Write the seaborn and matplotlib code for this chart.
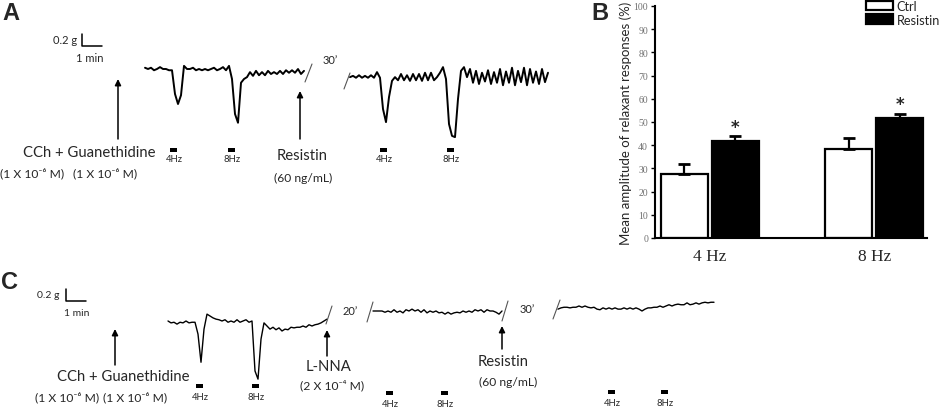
import numpy as np
import pandas as pd
import matplotlib
matplotlib.use("Agg")
import matplotlib.pyplot as plt
from matplotlib.patches import Rectangle
import seaborn as sns

# ---------------- data ----------------
DT_MIN = 0.15  # minutes between trace samples

# Panel A traces (tension change, g)
a_seg1 = [0.02, 0.00, 0.02, -0.02, 0.00, 0.03, 0.00, 0.00, -0.02, -0.02,
          -0.40, -0.56, -0.42, 0.05, 0.00, 0.00, 0.02, -0.02, 0.00, -0.02,
          0.00, -0.02, 0.00, 0.02, -0.02, 0.00, 0.03, -0.02, 0.05, -0.16,
          -0.72, -0.86, -0.22, -0.16, -0.13, -0.05, -0.11, -0.03, -0.10, -0.05,
          -0.10, -0.03, -0.08, -0.05, -0.08, -0.03, -0.08, -0.02, -0.06, -0.02,
          -0.06, 0.00, -0.08, -0.03]
a_seg2 = [-0.13, -0.11, -0.14, -0.10, -0.14, -0.11, -0.14, -0.10, -0.14, -0.05,
          -0.14, -0.64, -0.85, -0.45, -0.19, -0.13, -0.18, -0.08, -0.18, -0.10,
          -0.19, -0.08, -0.18, -0.08, -0.19, -0.06, -0.18, -0.06, -0.18, -0.13,
          -0.06, 0.03, -0.16, -0.88, -1.07, -1.09, -0.48, -0.03, 0.03, -0.13,
          0.00, -0.22, -0.03, -0.24, -0.06, -0.20, -0.02, -0.24, -0.05, -0.22,
          0.00, -0.26, -0.04, -0.22, 0.02, -0.26, -0.03, -0.21, 0.02, -0.26,
          0.00, -0.22, -0.04, -0.24, 0.00, -0.21, -0.06]

# Panel C traces (tension change, g)
c_seg1 = [0.00, -0.03, -0.02, -0.05, -0.02, -0.03, 0.00, -0.03, -0.02, -0.02,
          -0.21, -0.66, -0.13, 0.11, 0.08, 0.05, 0.03, 0.02, 0.00, 0.02,
          -0.02, 0.00, -0.02, 0.02, -0.02, 0.00, 0.02, -0.02, 0.00, -0.80,
          -0.93, -0.29, -0.03, -0.08, -0.13, -0.10, -0.14, -0.11, -0.16, -0.13,
          -0.14, -0.10, -0.11, -0.10, -0.10, -0.08, -0.10, -0.06, -0.08, -0.06,
          -0.05, -0.03, 0.00, 0.03]
c_seg2 = [0.16, 0.16, 0.16, 0.16, 0.14, 0.16, 0.14, 0.18, 0.14, 0.16,
          0.13, 0.18, 0.16, 0.19, 0.16, 0.18, 0.14, 0.18, 0.13, 0.16,
          0.14, 0.16, 0.13, 0.14, 0.11, 0.14, 0.11, 0.13, 0.14, 0.13,
          0.16, 0.14, 0.16, 0.14, 0.18, 0.16, 0.18, 0.14, 0.18, 0.16,
          0.16, 0.14, 0.11, 0.16]
c_seg3 = [0.19, 0.21, 0.22, 0.22, 0.21, 0.22, 0.22, 0.24, 0.22, 0.24,
          0.22, 0.21, 0.22, 0.19, 0.18, 0.21, 0.19, 0.21, 0.19, 0.21,
          0.19, 0.19, 0.21, 0.19, 0.21, 0.19, 0.21, 0.19, 0.16, 0.19,
          0.21, 0.21, 0.22, 0.22, 0.24, 0.22, 0.24, 0.26, 0.24, 0.26,
          0.27, 0.26, 0.26, 0.29, 0.26, 0.27, 0.29, 0.27, 0.29, 0.30,
          0.29, 0.30, 0.30]

# scale bar values
scale_g = 0.2
scale_min = 1.0

# Panel B bar data
freqs = ["4 Hz", "4 Hz", "8 Hz", "8 Hz"]
groups = ["Ctrl", "Resistin", "Ctrl", "Resistin"]
means = [27.5, 41.7, 38.3, 51.7]
sems = [4.5, 2.3, 4.9, 1.9]
signif = [False, True, False, True]
freq_order = ["4 Hz", "8 Hz"]
group_order = ["Ctrl", "Resistin"]
y_ticks = list(range(0, 101, 10))
y_label = "Mean amplitude of relaxant responses (%)"

# ---------------- style ----------------
sns.set_theme(style="white")
plt.rcParams["font.family"] = ["Lato", "DejaVu Sans"]
SANS = ["Lato", "DejaVu Sans"]

W, H = 941, 410
fig = plt.figure(figsize=(W / 100, H / 100), dpi=100)


def px_axes(x0, y0, x1, y1):
    return fig.add_axes([x0 / W, 1 - y1 / H, (x1 - x0) / W, (y1 - y0) / H])


PX_MIN = 20.0   # pixels per minute
PX_G = 62.5     # pixels per gram


def trace_axes(x0, y0, x1, y1, g_top):
    ax = px_axes(x0, y0, x1, y1)
    ax.set_xlim(0, (x1 - x0) / PX_MIN)
    ax.set_ylim(g_top - (y1 - y0) / PX_G, g_top)
    ax.axis("off")
    ax.patch.set_visible(False)
    return ax


def draw_trace(ax, vals, t0, lw):
    t = t0 + np.arange(len(vals)) * DT_MIN
    sns.lineplot(x=t, y=vals, ax=ax, color="black", lw=lw,
                 estimator=None, sort=False)


def scale_bar(ax, t, g):
    ax.plot([t, t, t + scale_min], [g + scale_g, g, g], color="black", lw=1.1)


# ---- Panel A traces ----
axA = trace_axes(60, 30, 560, 150, g_top=0.64)
draw_trace(axA, a_seg1, 4.25, 1.4)
draw_trace(axA, a_seg2, 14.5, 1.4)
scale_bar(axA, 1.1, 0.368)

# ---- Panel C traces ----
axC = trace_axes(40, 280, 720, 390, g_top=0.672)
draw_trace(axC, c_seg1, 6.4, 1.0)
draw_trace(axC, c_seg2, 16.65, 1.0)
draw_trace(axC, c_seg3, 25.9, 1.0)
scale_bar(axC, 1.3, 0.32)

# ---- Panel B bar chart ----
axB = px_axes(655, 7, 927, 239)
df = pd.DataFrame({"freq": freqs, "group": groups, "mean": means, "sem": sems,
                   "sig": signif})
sns.barplot(data=df, x="freq", y="mean", hue="group", order=freq_order,
            hue_order=group_order, palette={"Ctrl": "white", "Resistin": "black"},
            edgecolor="black", linewidth=1.6, width=0.62, gap=0.08,
            errorbar=None, ax=axB, legend=False)
for cont, grp in zip(axB.containers, group_order):
    for bar, fr in zip(cont, freq_order):
        row = df[(df["freq"] == fr) & (df["group"] == grp)].iloc[0]
        xc = bar.get_x() + bar.get_width() / 2
        axB.errorbar([xc], [row["mean"]], yerr=[[0], [row["sem"]]], fmt="none",
                     ecolor="black", elinewidth=1.6, capsize=4.5, capthick=2,
                     zorder=5)
        if row["sig"]:
            axB.text(xc, row["mean"] + row["sem"] + 4.0, "*", ha="center",
                     va="center", fontsize=12, fontweight="bold",
                     family="DejaVu Sans")
axB.set_xlim(-0.334, 1.32)
axB.set_ylim(0, 100)
axB.set_yticks(y_ticks)
axB.set_yticklabels([str(v) for v in y_ticks], family="Liberation Serif",
                    fontsize=7, color="#707070")
axB.set_xticks([0, 1])
axB.set_xticklabels(freq_order, family="Liberation Serif", fontsize=12.5)
axB.tick_params(axis="y", left=True, length=3, width=1, direction="out", pad=2,
                color="black")
axB.tick_params(axis="x", bottom=False, length=0, pad=7)
axB.set_xlabel("")
axB.set_ylabel(y_label, fontsize=9.5, family=SANS)
axB.yaxis.set_label_coords(-0.085, 0.5)
for s in ["top", "right"]:
    axB.spines[s].set_visible(False)
for s in ["left", "bottom"]:
    axB.spines[s].set_linewidth(1.5)
    axB.spines[s].set_color("black")
axB.patch.set_visible(False)

handles = [axB.containers[0][0], axB.containers[1][0]]
fig.legend(handles, group_order, loc="upper left",
           bbox_to_anchor=(866 / W, 1 - 1 / H), bbox_transform=fig.transFigure,
           frameon=False, handlelength=2.1, handleheight=0.8,
           handletextpad=0.3, labelspacing=0.12, borderpad=0.0,
           borderaxespad=0, prop={"family": SANS, "size": 9.2})

# ---- overlay for annotations (pixel coordinates) ----
ov = fig.add_axes([0, 0, 1, 1])
ov.set_xlim(0, W)
ov.set_ylim(H, 0)
ov.axis("off")
ov.patch.set_visible(False)


def txt(x, y, s, size, **kw):
    kw.setdefault("ha", "center")
    kw.setdefault("va", "center")
    kw.setdefault("family", SANS)
    ov.text(x, y, s, fontsize=size, **kw)


def arrow(x, y_head, y_tail):
    ov.annotate("", xy=(x, y_head), xytext=(x, y_tail),
                arrowprops=dict(arrowstyle="-|>", color="black", lw=1.1,
                                mutation_scale=9, shrinkA=0, shrinkB=0))


def slash(x1, y1, x2, y2):
    ov.plot([x1, x2], [y1, y2], color="#555555", lw=0.8)


def stim(x, y, label, ly):
    ov.add_patch(Rectangle((x - 3.5, y - 2), 7, 4, color="black", lw=0))
    txt(x, ly, label, 6.8)


# panel letters
for lx, ly, lt in [(11, 13, "A"), (600, 13, "B"), (10, 283, "C")]:
    ov.text(lx, ly, lt, fontsize=17, fontweight="bold", ha="center",
            va="center", family="Liberation Sans")

# Panel A annotations
txt(65, 40, "0.2 g", 8)
txt(90, 59, "1 min", 8)
arrow(118, 80, 140)
txt(89, 153, "CCh + Guanethidine", 10.7)
txt(32, 173, "(1 X 10⁻⁶ M)", 8.7)
txt(105, 173, "(1 X 10⁻⁶ M)", 8.7)
arrow(300, 92, 140)
txt(302, 156, "Resistin", 10.7)
txt(303, 178, "(60 ng/mL)", 8.7)
txt(330, 60, "30’", 8)
slash(305, 83, 312, 65)
slash(344, 90, 350, 74)
for x, lab in [(174, "4Hz"), (232, "8Hz"), (384, "4Hz"), (451, "8Hz")]:
    stim(x, 151, lab, 160)

# Panel C annotations
txt(48, 296, "0.2 g", 7.5)
txt(77, 314, "1 min", 7.5)
arrow(115, 330, 366)
txt(123, 377, "CCh + Guanethidine", 10.7)
txt(67, 397, "(1 X 10⁻⁶ M)", 8.7)
txt(135, 397, "(1 X 10⁻⁶ M)", 8.7)
arrow(327, 331, 357)
txt(329, 367, "L-NNA", 10.7)
txt(332, 385, "(2 X 10⁻⁴ M)", 8.7)
arrow(502, 327, 350)
txt(503, 362, "Resistin", 10.7)
txt(508, 382, "(60 ng/mL)", 8.7)
txt(350, 312, "20’", 8)
txt(527, 310, "30’", 8)
slash(326, 325, 332, 307)
slash(367, 323, 373, 303)
slash(502, 322, 508, 302)
slash(553, 320, 560, 301)
for x, lab in [(200, "4Hz"), (256, "8Hz")]:
    stim(x, 387, lab, 398)
for x, lab in [(390, "4Hz"), (445, "8Hz")]:
    stim(x, 394, lab, 405)
for x, lab in [(612, "4Hz"), (665, "8Hz")]:
    stim(x, 393, lab, 404)

fig.savefig("out.png", dpi=100)
